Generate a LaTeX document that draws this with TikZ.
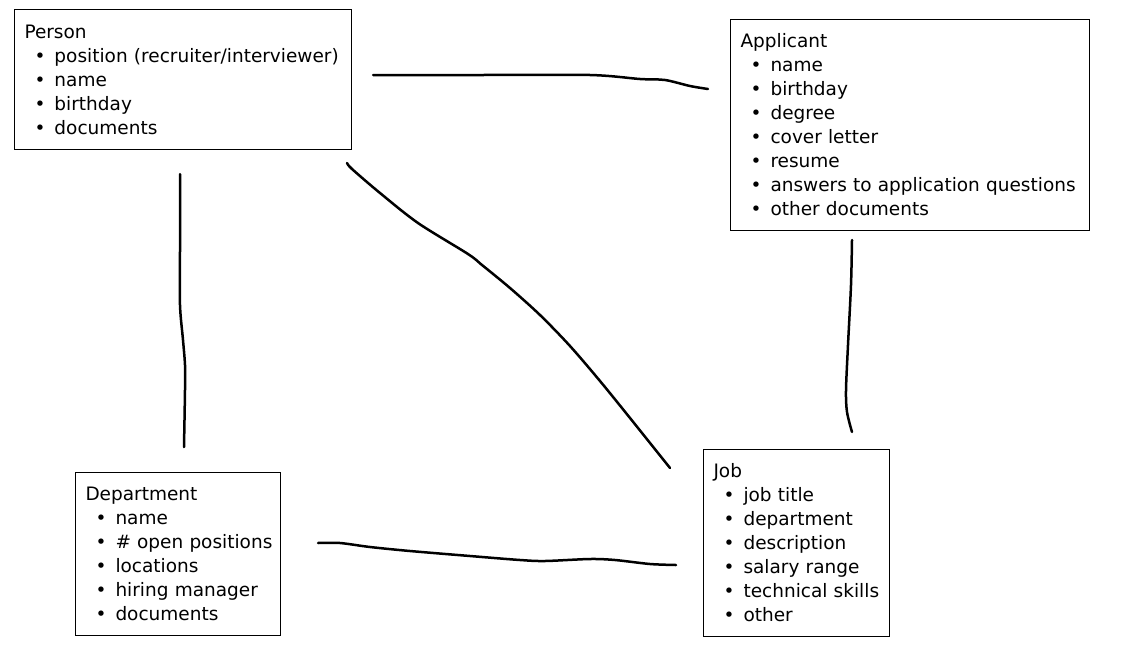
\documentclass[tikz,border=0pt]{standalone}
\usepackage{fontspec}
\setmainfont{DejaVu Sans}
\usepackage{tikz}
\usetikzlibrary{positioning}
\def\itm#1{\hspace*{10pt}\makebox[20pt][l]{\textbullet}\mbox{#1}}
\tikzstyle{entity}=[draw,line width=1pt,anchor=north west,align=left,inner xsep=10pt,inner ysep=0pt,font=\fontsize{18.5}{24}\selectfont]
\tikzstyle{link}=[line width=2.5pt,line cap=round,line join=round]

\begin{document}
\begin{tikzpicture}[x=1pt,y=-1pt]
    \useasboundingbox (0,0) rectangle (1124,651);
    % entities
    \node[entity,text width=317pt,minimum height=140pt] (person) at (14,9)
      {Person\\\itm{position (recruiter/interviewer)}\\\itm{name}\\\itm{birthday}\\\itm{documents}};
    \node[entity,text width=339pt,minimum height=211pt] (applicant) at (730,19)
      {Applicant\\\itm{name}\\\itm{birthday}\\\itm{degree}\\\itm{cover letter}\\\itm{resume}\\\itm{answers to application questions}\\\itm{other documents}};
    \node[entity,text width=185pt,minimum height=163pt] (department) at (75,472)
      {Department\\\itm{name}\\\itm{\# open positions}\\\itm{locations}\\\itm{hiring manager}\\\itm{documents}};
    \node[entity,text width=166pt,minimum height=187pt] (job) at (703,449)
      {Job\\\itm{job title}\\\itm{department}\\\itm{description}\\\itm{salary range}\\\itm{technical skills}\\\itm{other}};
    % ends of the strokes
    \coordinate (person-app) at (373,75);
    \coordinate (app-person) at (708,89);
    \coordinate (person-job) at (347,163);
    \coordinate (job-person) at (670,468);
    \coordinate (person-dep) at (180,174);
    \coordinate (dep-person) at (184,447);
    \coordinate (app-job) at (852,240);
    \coordinate (job-app) at (852,432);
    \coordinate (dep-job) at (318,543);
    \coordinate (job-dep) at (676,565);
    % hand drawn links
    \draw[link] plot[smooth,tension=0.5] coordinates {(person-app) (480,75) (590,75) (640,79) (665,80) (690,86) (app-person)};
    \draw[link] plot[smooth,tension=0.5] coordinates {(person-job) (352,169) (380,193) (418,223) (468,254) (482,265) (510,288) (540,315) (570,346) (600,381) (630,418) (job-person)};
    \draw[link] plot[smooth,tension=0.5] coordinates {(person-dep) (180,250) (180,305) (183,340) (185,365) (185,390) (dep-person)};
    \draw[link] plot[smooth,tension=0.5] coordinates {(app-job) (851,285) (848,345) (846,390) (847,412) (job-app)};
    \draw[link] plot[smooth,tension=0.5] coordinates {(dep-job) (340,543) (370,547) (410,551) (470,556) (520,560) (545,561) (590,559) (615,560) (650,564) (job-dep)};
\end{tikzpicture}
\end{document}
